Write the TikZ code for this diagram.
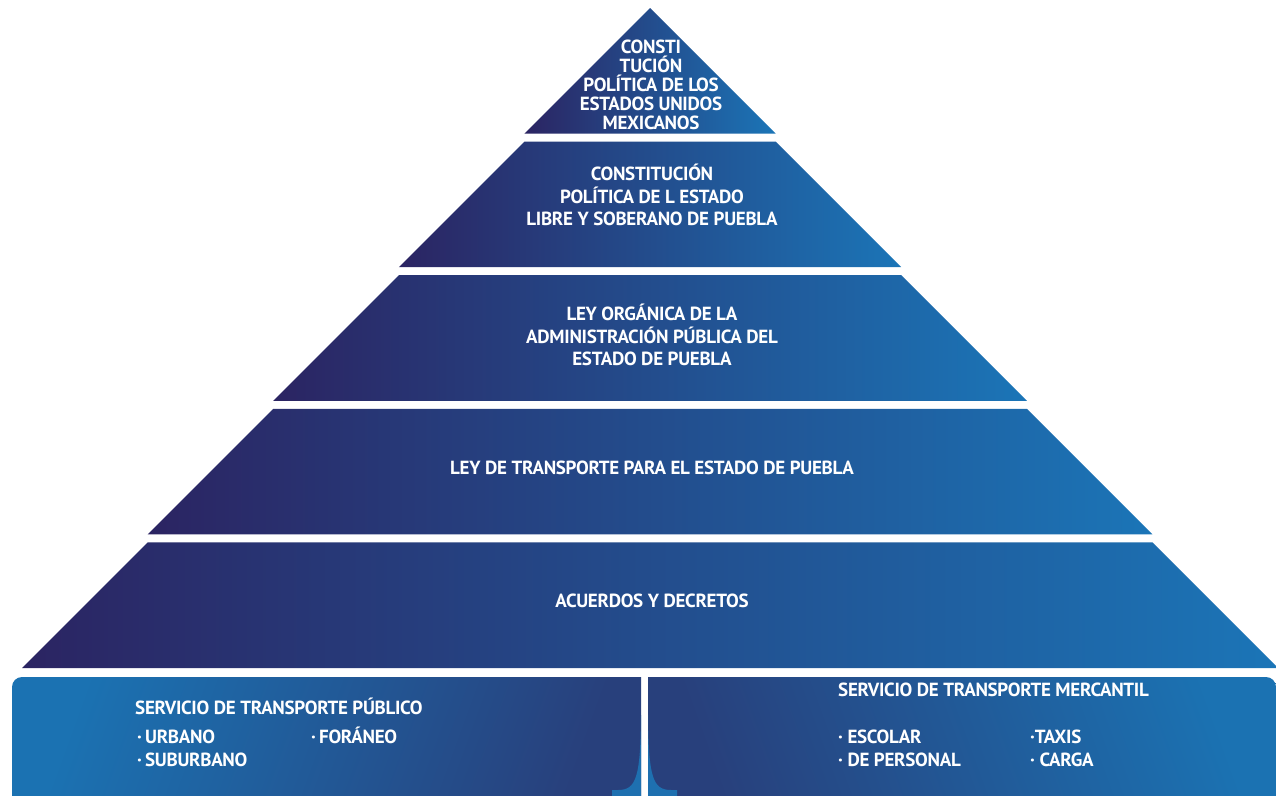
\documentclass[tikz,border=0pt]{standalone}
\usepackage{fontspec}
\newfontfamily\labfont[LetterSpace=-1.5]{PT Sans Bold}
\definecolor{navyL}{RGB}{43,36,98}
\definecolor{blueR}{RGB}{27,117,183}
\definecolor{boxLight}{RGB}{27,114,178}
\definecolor{boxDark}{RGB}{40,64,124}
\definecolor{flare}{RGB}{30,112,176}
\tikzset{
  layerfill/.style={left color=navyL, right color=blueR},
  lab/.style={text=white, font=\labfont\fontsize{19}{22.5}\selectfont, align=center, anchor=base, inner sep=0pt},
  labtop/.style={lab, font=\labfont\fontsize{19}{19}\selectfont},
  item/.style={text=white, font=\labfont\fontsize{19}{22}\selectfont, anchor=base west, inner sep=0pt}
}
\begin{document}
\begin{tikzpicture}[x=1pt,y=-1pt]
\useasboundingbox (0,0) rectangle (1276,795);
\fill[white] (0,0) rectangle (1276,795);
% pyramid layers
\shade[layerfill] (650,8) -- (775.6,133.6) -- (524.4,133.6) -- cycle;
\shade[layerfill] (524.4,141.6) -- (775.6,141.6) -- (901.2,267.2) -- (398.8,267.2) -- cycle;
\shade[layerfill] (398.8,275.2) -- (901.2,275.2) -- (1026.8,400.8) -- (273.2,400.8) -- cycle;
\shade[layerfill] (273.2,408.8) -- (1026.8,408.8) -- (1152.4,534.4) -- (147.6,534.4) -- cycle;
\shade[layerfill] (147.6,542.4) -- (1152.4,542.4) -- (1278,668) -- (22,668) -- cycle;
% bottom boxes
\shade[left color=boxLight, right color=boxDark, shading angle=70]
  (12,800) -- (12,687) .. controls (12,681.5) and (16.5,677) .. (22,677) -- (641,677) -- (641,800) -- cycle;
\shade[left color=boxDark, right color=boxLight, shading angle=110]
  (648,800) -- (648,677) -- (1266,677) .. controls (1271.5,677) and (1276,681.5) .. (1276,687) -- (1276,800) -- cycle;
\fill[flare] (641,715) .. controls (640.5,778) and (636,790) .. (618,790) -- (612,790) -- (612,800) -- (641,800) -- cycle;
\fill[flare] (648,715) .. controls (648.5,778) and (653,790) .. (671,790) -- (677,790) -- (677,800) -- (648,800) -- cycle;
% texts
\node[labtop] (t1) at (651,129.5) {CONSTI\\TUCIÓN\\POLÍTICA DE LOS\\ESTADOS UNIDOS\\MEXICANOS};
\node[lab] (t2) at (652,225.5) {CONSTITUCIÓN\\POLÍTICA DE L ESTADO\\LIBRE Y SOBERANO DE PUEBLA};
\node[lab] (t3) at (652,365.5) {LEY ORGÁNICA DE LA\\ADMINISTRACIÓN PÚBLICA DEL\\ESTADO DE PUEBLA};
\node[lab] (t4) at (652,474.5) {LEY DE TRANSPORTE PARA EL ESTADO DE PUEBLA};
\node[lab] (t5) at (652,607.5) {ACUERDOS Y DECRETOS};
\node[item] (p0) at (135,714.5) {SERVICIO DE TRANSPORTE PÚBLICO};
\node[item] (p1) at (137,743.5) {·\,URBANO};
\node[item] (p2) at (311,743.5) {·\,FORÁNEO};
\node[item] (p3) at (137,766.5) {·\,SUBURBANO};
\node[item] (m0) at (838,696.5) {SERVICIO DE TRANSPORTE MERCANTIL};
\node[item] (m1) at (838,743.5) {· ESCOLAR};
\node[item] (m2) at (1030,743.5) {·TAXIS};
\node[item] (m3) at (838,766.5) {· DE PERSONAL};
\node[item] (m4) at (1030,766.5) {· CARGA};
\end{tikzpicture}
\end{document}
